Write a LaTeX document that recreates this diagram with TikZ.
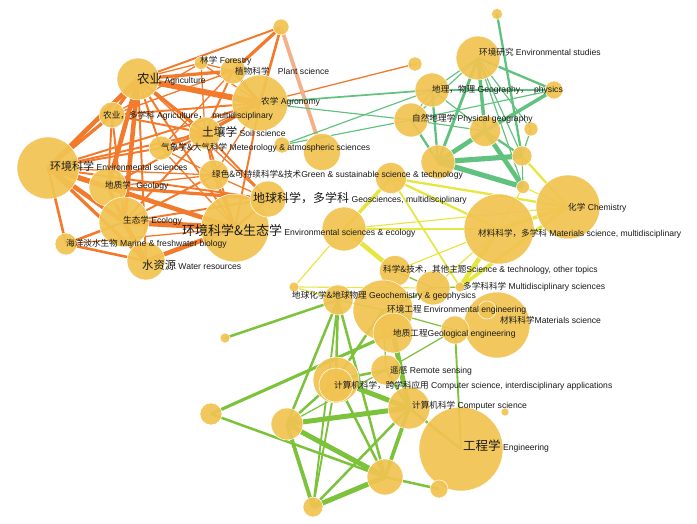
\documentclass[tikz,border=0pt]{standalone}
\usepackage{fontspec}
\setmainfont{Liberation Sans}
\newfontfamily\cjk{Noto Sans CJK SC}
\definecolor{nodefill}{RGB}{241,196,82}
\definecolor{ora}{RGB}{242,122,42}
\definecolor{pea}{RGB}{244,176,136}
\definecolor{grn}{RGB}{96,194,126}
\definecolor{yel}{RGB}{230,230,64}
\definecolor{lim}{RGB}{124,194,58}
\pgfdeclarelayer{bg}
\pgfsetlayers{bg,main}
\newcommand\zh[1]{{\cjk #1}}
\newcommand\zhb[2][12]{{\cjk\fontsize{#1}{#1}\selectfont #2}}
\newcommand\edg[3][]{\draw[#1] (#2.center) -- (#3.center);}
\tikzset{
  nd/.style={circle, fill=nodefill, fill opacity=.93, draw=white, line width=.5pt, inner sep=0pt, minimum size=#1},
  lbl/.style={anchor=west, inner sep=0pt, text=black!90, font=\fontsize{8.6}{9}\selectfont},
  oe/.style={draw=ora, line width=1.3*#1}, oe/.default=1,
  pe/.style={draw=pea, line width=#1}, pe/.default=3,
  ge/.style={draw=grn, line width=1.15*#1}, ge/.default=1,
  ye/.style={draw=yel, line width=1.15*#1}, ye/.default=1,
  le/.style={draw=lim, line width=1.25*#1}, le/.default=1,
}
\begin{document}
\begin{tikzpicture}[x=1pt,y=-1pt]
\useasboundingbox (0,0) rectangle (697,524);
% ---------- nodes ----------
\node[nd=42] (agri) at (138,79) {};
\node[nd=13] (for) at (201,63) {};
\node[nd=26] (plant) at (233,71) {};
\node[nd=56] (agro) at (260,103) {};
\node[nd=26] (amul) at (112,115) {};
\node[nd=32] (soil) at (205,133) {};
\node[nd=24] (met) at (161,148) {};
\node[nd=62] (env) at (48,168) {};
\node[nd=38] (geol) at (108,187) {};
\node[nd=50] (eco) at (124,222) {};
\node[nd=68] (ese) at (235,228) {};
\node[nd=22] (ma) at (66,244) {};
\node[nd=38] (water) at (146,261) {};
\node[nd=30] (gr) at (214,175) {};
\node[nd=36] (gs) at (268,199) {};
\node[nd=16] (top) at (281,27) {};
\node[nd=16] (ua) at (282,145) {};
\node[nd=37] (ub) at (322,152) {};
\node[nd=11] (n18) at (497,14) {};
\node[nd=44] (es) at (478,58) {};
\node[nd=14] (n20) at (415,64) {};
\node[nd=34] (gp) at (432,90) {};
\node[nd=18] (n22) at (554,90) {};
\node[nd=34] (pg) at (411,120) {};
\node[nd=31] (n24) at (485,131) {};
\node[nd=14] (n25) at (531,129) {};
\node[nd=34] (n26) at (438,162) {};
\node[nd=20] (n27) at (522,156) {};
\node[nd=13] (n28) at (523,187) {};
\node[nd=31] (n29) at (391,178) {};
\node[nd=44] (n30) at (344,229) {};
\node[nd=64] (chem) at (568,207) {};
\node[nd=70] (mat) at (499,229) {};
\node[nd=31] (n33) at (395,271) {};
\node[nd=10] (n34) at (294,287) {};
\node[nd=34] (n35) at (433,288) {};
\node[nd=10] (n36) at (460,287) {};
\node[nd=30] (geoc) at (338,300) {};
\node[nd=60] (n38) at (383,310) {};
\node[nd=66] (mats) at (497,325) {};
\node[nd=18] (n39) at (487,310) {};
\node[nd=28] (geng) at (455,330) {};
\node[nd=40] (n41b) at (393,333) {};
\node[nd=30] (rs) at (386,370) {};
\node[nd=46] (csi) at (336,380) {};
\node[nd=34] (csii) at (336,385) {};
\node[nd=42] (cs) at (409,408) {};
\node[nd=84] (eng) at (461,449) {};
\node[nd=8] (n46) at (505,412) {};
\node[nd=18] (n47) at (439,489) {};
\node[nd=36] (n48) at (385,477) {};
\node[nd=20] (n49) at (313,507) {};
\node[nd=32] (n50) at (287,424) {};
\node[nd=22] (n51) at (211,414) {};
\node[nd=10] (n52) at (225,338) {};
% ---------- edges ----------
\begin{pgfonlayer}{bg}
% orange
\edg[oe=4.5]{agri}{agro}
\edg[oe=2.5]{agri}{plant}
\edg[oe=1]{agri}{for}
\edg[oe=1.5]{agri}{top}
\edg[oe=3.5]{agri}{env}
\edg[oe=2.5]{agri}{amul}
\edg[oe=3.5]{agri}{geol}
\edg[oe=3.5]{agri}{eco}
\edg[oe=2.5]{agri}{soil}
\edg[oe=1.5]{agri}{ese}
\edg[oe=1]{agri}{gs}
\edg[oe=1.5]{agri}{water}
\edg[oe=1.5]{agri}{met}
\edg[oe=1]{for}{plant}
\edg[oe=1]{for}{agro}
\edg[oe=1]{for}{amul}
\edg[oe=1]{for}{soil}
\edg[oe=2.5]{plant}{agro}
\edg[oe=1.5]{plant}{soil}
\edg[oe=2.5]{plant}{top}
\edg[oe=1]{plant}{amul}
\edg[oe=1]{plant}{met}
\edg[oe=2]{agro}{top}
\edg[oe=2.5]{agro}{soil}
\edg[oe=1.5]{agro}{amul}
\edg[oe=1]{agro}{met}
\edg[oe=1]{agro}{gr}
\edg[oe=1]{agro}{n20}
\edg[oe=1.5]{agro}{env}
\edg[oe=1.5]{agro}{ese}
\edg[oe=2.5]{amul}{env}
\edg[oe=1.5]{amul}{soil}
\edg[oe=1.5]{amul}{geol}
\edg[oe=1.5]{amul}{eco}
\edg[oe=4]{env}{geol}
\edg[oe=3.5]{env}{eco}
\edg[oe=3.5]{env}{ese}
\edg[oe=2]{env}{ma}
\edg[oe=2.5]{env}{water}
\edg[oe=1.5]{env}{soil}
\edg[oe=1.5]{env}{met}
\edg[oe=1.5]{env}{gs}
\edg[oe=1]{env}{gr}
\edg[oe=2.5]{geol}{eco}
\edg[oe=2.5]{geol}{ese}
\edg[oe=2.5]{geol}{gs}
\edg[oe=1.5]{geol}{soil}
\edg[oe=1.5]{geol}{water}
\edg[oe=1]{geol}{gr}
\edg[oe=4.5]{eco}{ese}
\edg[oe=3.5]{eco}{water}
\edg[oe=2]{eco}{ma}
\edg[oe=1.5]{eco}{soil}
\edg[oe=1.5]{eco}{gs}
\edg[oe=1.5]{eco}{gr}
\edg[oe=3.5]{ese}{water}
\edg[oe=2]{ese}{gs}
\edg[oe=2]{ese}{gr}
\edg[oe=1.5]{ese}{soil}
\edg[oe=1]{ese}{ma}
\edg[oe=1]{ese}{met}
\edg[oe=2]{ma}{water}
\edg[oe=1.5]{soil}{met}
\edg[oe=1.5]{soil}{gs}
\edg[oe=1.5]{soil}{gr}
\edg[oe=1]{met}{gr}
\edg[oe=1]{gs}{gr}
\edg[pe=3.8]{top}{ub}
% green
\edg[ge=2]{n18}{n27}
\edg[ge=2]{es}{n22}
\edg[ge=1]{es}{gp}
\edg[ge=1]{es}{pg}
\edg[ge=3]{es}{n24}
\edg[ge=2.5]{es}{n26}
\edg[ge=1]{es}{n27}
\edg[ge=1]{es}{n28}
\edg[ge=1]{es}{n25}
\edg[ge=2]{gp}{n22}
\edg[ge=1]{gp}{pg}
\edg[ge=2]{gp}{n26}
\edg[ge=1]{gp}{n24}
\edg[ge=1]{pg}{n22}
\edg[ge=1]{pg}{n24}
\edg[ge=2]{pg}{n26}
\edg[ge=4]{n24}{n26}
\edg[ge=2]{n24}{n27}
\edg[ge=4]{n24}{n28}
\edg[ge=3]{n24}{n22}
\edg[ge=4.5]{n26}{n27}
\edg[ge=4.5]{n26}{n28}
\edg[ge=1]{n27}{n28}
\edg[ge=1]{n25}{n27}
\edg[ge=1.5]{agro}{gp}
\edg[ge=1]{agro}{pg}
\edg[ge=1]{ua}{gp}
\edg[ge=1]{ua}{pg}
% yellow
\edg[ye=3]{n29}{n30}
\edg[ye=2]{n29}{chem}
\edg[ye=2]{n29}{mat}
\edg[ye=1.5]{n29}{n36}
\edg[ye=2]{n30}{mat}
\edg[ye=1]{n30}{chem}
\edg[ye=4]{n30}{n33}
\edg[ye=1]{n30}{n34}
\edg[ye=1]{n34}{geoc}
\edg[ye=1]{n34}{n35}
\edg[ye=3]{mat}{chem}
\edg[ye=4]{mat}{n36}
\edg[ye=3]{chem}{n36}
\edg[ye=2]{chem}{n27}
\edg[ye=1]{chem}{n28}
\edg[ye=1]{mat}{n28}
\edg[ye=1]{mat}{n33}
\edg[ye=1]{mat}{n35}
% lime
\edg[le=2]{geoc}{n52}
\edg[le=2]{geoc}{n50}
\edg[le=2]{geoc}{csi}
\edg[le=2]{geoc}{n48}
\edg[le=1.5]{geoc}{n49}
\edg[le=1]{geoc}{n38}
\edg[le=2.5]{n51}{n41b}
\edg[le=2]{n51}{n48}
\edg[le=4]{n50}{cs}
\edg[le=2]{n50}{csi}
\edg[le=3]{n50}{n49}
\edg[le=4]{n50}{n48}
\edg[le=1]{n50}{rs}
\edg[le=4]{csi}{cs}
\edg[le=2]{csi}{n48}
\edg[le=1.5]{csi}{n49}
\edg[le=2]{csi}{rs}
\edg[le=3]{cs}{n48}
\edg[le=2]{cs}{n49}
\edg[le=2]{cs}{rs}
\edg[le=2]{cs}{eng}
\edg[le=4]{n48}{n49}
\edg[le=2]{n48}{n47}
\edg[le=1]{rs}{n38}
\edg[le=1]{rs}{geng}
\edg[le=4]{n41b}{cs}
\edg[le=1.5]{eng}{geng}
\edg[le=1]{n33}{n35}
\edg[le=1]{n35}{n36}
\edg[le=1]{n35}{n38}
\edg[le=1]{n38}{geng}
\edg[le=2]{csi}{n38}
\end{pgfonlayer}
% ---------- labels ----------
\node[lbl] (t1) at (137,79) {\zhb[12.5]{农业} Agriculture};
\node[lbl] (t2) at (200,61) {\zh{林学} Forestry};
\node[lbl] (t3) at (235,71) {\zh{植物科学}\hspace{6pt} Plant science};
\node[lbl] (t4) at (261,102) {\zh{农学} Agronomy};
\node[lbl] (t5) at (103,116) {\zh{农业，多学科} Agriculture\zh{，}\hspace{3pt} multidisciplinary};
\node[lbl] (t6) at (202,132) {\zhb[11.7]{土壤学} Soil science};
\node[lbl] (t7) at (161,148) {\zh{气象学\&大气科学} Meteorology \& atmospheric sciences};
\node[lbl] (t8) at (50,166) {\zhb[11]{环境科学} Environmental sciences};
\node[lbl] (t9) at (105,186) {\zh{地质学}\hspace{3pt} Geology};
\node[lbl] (t10) at (123,221) {\zh{生态学} Ecology};
\node[lbl] (t11) at (182,231) {\zhb[13]{环境科学\&生态学} Environmental sciences \& ecology};
\node[lbl] (t12) at (66,244) {\zh{海洋淡水生物} Marine \& freshwater biology};
\node[lbl] (t13) at (142,265) {\zhb[11.3]{水资源} Water resources};
\node[lbl] (t14) at (212,175) {\zh{绿色\&可持续科学\&技术}Green \& sustainable science \& technology};
\node[lbl] (t15) at (253,198) {\zhb[12]{地球科学，多学科} Geosciences, multidisciplinary};
\node[lbl] (t16) at (479,52) {\zh{环境研究} Environmental studies};
\node[lbl] (t17) at (432,90) {\zh{地理，物理} Geography\zh{，}\hspace{3pt} physics};
\node[lbl] (t18) at (412,119) {\zh{自然地理学} Physical geography};
\node[lbl] (t19) at (568,208) {\zh{化学} Chemistry};
\node[lbl] (t20) at (478,234) {\zh{材料科学，多学科} Materials science, multidisciplinary};
\node[lbl] (t21) at (383,270) {\zh{科学\&技术，其他主题}Science \& technology, other topics};
\node[lbl] (t22) at (463,287) {\zh{多学科科学} Multidisciplinary sciences};
\node[lbl] (t23) at (292,296) {\zh{地球化学\&地球物理} Geochemistry \& geophysics};
\node[lbl] (t24) at (387,310) {\zh{环境工程} Environmental engineering};
\node[lbl] (t25) at (500,320) {\zh{材料科学}Materials science};
\node[lbl] (t26) at (393,334) {\zh{地质工程}Geological engineering};
\node[lbl] (t27) at (390,371) {\zh{遥感} Remote sensing};
\node[lbl] (t28) at (334,386) {\zh{计算机科学，跨学科应用} Computer science, interdisciplinary applications};
\node[lbl] (t29) at (412,406) {\zh{计算机科学} Computer science};
\node[lbl] (t30) at (463,446) {\zhb[12.5]{工程学} Engineering};
\end{tikzpicture}
\end{document}
